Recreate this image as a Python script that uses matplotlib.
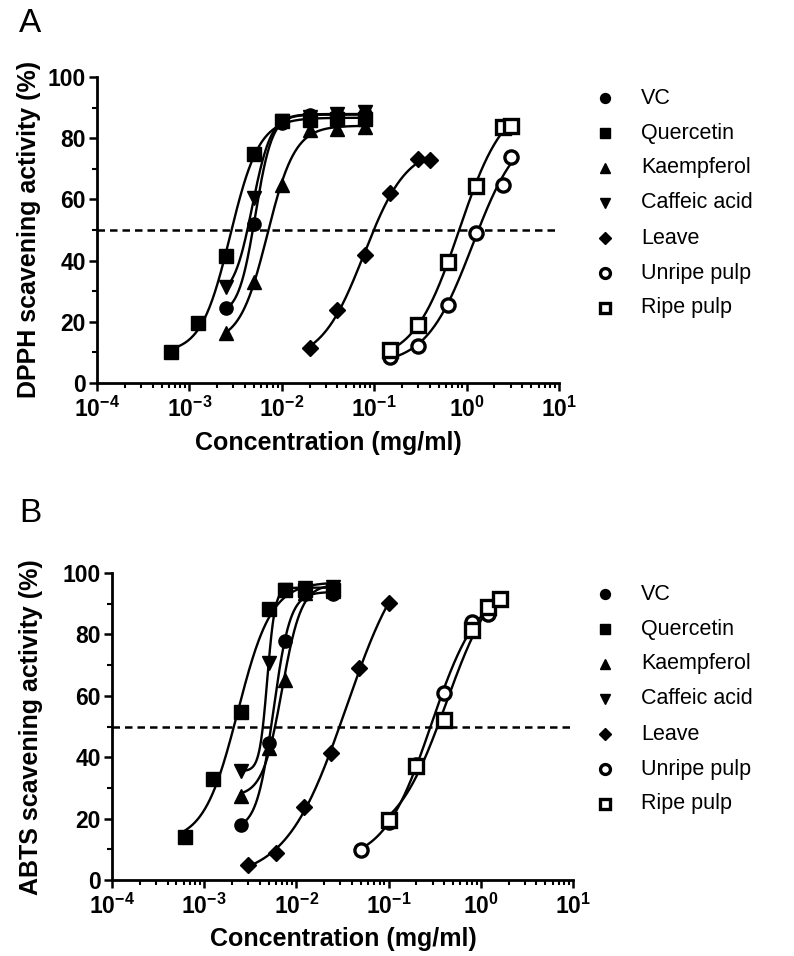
import numpy as np
import matplotlib
matplotlib.use('Agg')
import matplotlib.pyplot as plt
from matplotlib.lines import Line2D
from matplotlib.ticker import FixedLocator, LogLocator, NullFormatter

plt.rcParams['font.family'] = ['Liberation Sans', 'DejaVu Sans']
plt.rcParams['mathtext.fontset'] = 'custom'
plt.rcParams['mathtext.rm'] = 'Liberation Sans:bold'
plt.rcParams['mathtext.it'] = 'Liberation Sans:bold'
plt.rcParams['mathtext.bf'] = 'Liberation Sans:bold'
plt.rcParams['mathtext.default'] = 'bf'

# ---- data ----
names = ['VC', 'Quercetin', 'Kaempferol', 'Caffeic acid', 'Leave', 'Unripe pulp', 'Ripe pulp']

# panel A (DPPH)
conc_std_a = [0.000625, 0.00125, 0.0025, 0.005, 0.01, 0.02, 0.04, 0.08]
vc_a = [24.4, 52.0, 85.0, 87.6, 87.5, 88.0]
quercetin_a = [10.0, 19.5, 41.6, 74.7, 85.6, 86.0, 86.2, 86.3]
kaempferol_a = [16.4, 33.1, 64.7, 82.7, 83.0, 83.5]
caffeic_a = [31.3, 60.4, 85.5, 87.0, 88.0, 88.5]
leave_conc_a = [0.02, 0.04, 0.08, 0.15, 0.3, 0.4]
leave_a = [11.5, 23.8, 41.8, 62.2, 73.2, 73.0]
pulp_conc_a = [0.15, 0.3, 0.625, 1.25, 2.5, 3.0]
unripe_a = [8.6, 12.2, 25.5, 48.9, 64.7, 74.0]
ripe_a = [10.8, 19.0, 39.7, 64.4, 83.8, 83.9]

# panel B (ABTS)
conc_std_b = [0.000625, 0.00125, 0.0025, 0.005, 0.0075, 0.0125, 0.025]
vc_b = [18.0, 44.7, 78.0, 93.0, 93.0]
quercetin_b = [13.9, 32.9, 54.6, 88.4, 94.3, 94.5, 94.5]
kaempferol_b = [27.4, 43.0, 65.1, 93.5, 94.0]
caffeic_b = [35.5, 70.6, 94.5, 95.0, 95.5]
leave_conc_b = [0.003, 0.006, 0.012, 0.024, 0.048, 0.1]
leave_b = [4.9, 8.9, 23.7, 41.3, 68.9, 90.1]
unripe_conc_b = [0.05, 0.1, 0.2, 0.4, 0.8, 1.2]
unripe_b = [9.8, 19.0, 37.5, 61.0, 84.2, 86.8]
ripe_conc_b = [0.1, 0.2, 0.4, 0.8, 1.2, 1.6]
ripe_b = [19.5, 37.0, 52.1, 81.4, 89.0, 91.5]

markers = ['o', 's', '^', 'v', 'D', 'o', 's']
filled = [True, True, True, True, True, False, False]
msizes = [9.5, 9.5, 10, 10, 8.5, 9.5, 9.5]


def fit_4pl(x, y):
    # sigmoidal dose-response (variable slope), brute force over logEC50 / hill,
    # bottom and top solved by least squares
    lx = np.log10(np.asarray(x))
    y = np.asarray(y)
    cs = np.linspace(lx.min() - 0.6, lx.max() + 0.6, 500)
    hs = np.linspace(0.3, 15, 300)
    C, H = np.meshgrid(cs, hs)
    C = C.ravel()[:, None]
    H = H.ravel()[:, None]
    s = 1.0 / (1.0 + 10 ** ((C - lx[None, :]) * H))
    u = 1 - s
    a = (u * u).sum(1)
    b = (u * s).sum(1)
    d = (s * s).sum(1)
    r1 = (u * y).sum(1)
    r2 = (s * y).sum(1)
    det = a * d - b * b
    det[np.abs(det) < 1e-12] = np.nan
    bot = (d * r1 - b * r2) / det
    top = (a * r2 - b * r1) / det
    pred = bot[:, None] * u + top[:, None] * s
    err = ((pred - y) ** 2).sum(1)
    i = np.nanargmin(err)
    return bot[i], top[i], C[i, 0], H[i, 0]


def draw_panel(ax, series):
    for (xv, yv), m, f, ms in zip(series, markers, filled, msizes):
        bot, top, c, h = fit_4pl(xv, yv)
        xs = np.logspace(np.log10(min(xv)), np.log10(max(xv)), 300)
        ys = bot + (top - bot) / (1 + 10 ** ((c - np.log10(xs)) * h))
        ax.plot(xs, ys, color='black', lw=1.7, zorder=2)
        ax.plot(xv, yv, ls='none', marker=m, ms=ms,
                mfc='black' if f else 'white', mec='black',
                mew=2.4 if not f else 1, zorder=3, clip_on=False)

    ax.axhline(50, color='black', lw=1.8, ls=(0, (3, 2)), zorder=1)
    ax.set_xscale('log')
    ax.set_xlim(1e-4, 1e1)
    ax.set_ylim(0, 100)
    ax.xaxis.set_major_locator(FixedLocator([1e-4, 1e-3, 1e-2, 1e-1, 1e0, 1e1]))
    ax.set_xticklabels([r'$\mathbf{10^{%d}}$' % p for p in range(-4, 2)])
    ax.xaxis.set_minor_locator(LogLocator(base=10, subs=np.arange(2, 10), numticks=20))
    ax.xaxis.set_minor_formatter(NullFormatter())
    ax.set_yticks([0, 20, 40, 60, 80, 100])
    ax.set_yticks([10, 30, 50, 70, 90], minor=True)
    for lab in ax.get_yticklabels():
        lab.set_fontweight('bold')
    ax.tick_params(which='major', length=6, width=1.8, labelsize=16.5, direction='out', pad=2)
    ax.tick_params(which='minor', length=3.5, width=1.5, direction='out')
    ax.tick_params(axis='x', which='major', pad=4)
    for sp in ['top', 'right']:
        ax.spines[sp].set_visible(False)
    for sp in ['left', 'bottom']:
        ax.spines[sp].set_linewidth(2)


fig = plt.figure(figsize=(7.94, 9.56), dpi=100)
W, Hh = 794.0, 956.0

axA = fig.add_axes([97 / W, 1 - 383 / Hh, 462 / W, 306 / Hh])
axB = fig.add_axes([112 / W, 1 - 880 / Hh, 461 / W, 307 / Hh])

series_a = [(conc_std_a[2:], vc_a), (conc_std_a, quercetin_a), (conc_std_a[2:], kaempferol_a),
            (conc_std_a[2:], caffeic_a), (leave_conc_a, leave_a), (pulp_conc_a, unripe_a),
            (pulp_conc_a, ripe_a)]
series_b = [(conc_std_b[2:], vc_b), (conc_std_b, quercetin_b), (conc_std_b[2:], kaempferol_b),
            (conc_std_b[2:], caffeic_b), (leave_conc_b, leave_b), (unripe_conc_b, unripe_b),
            (ripe_conc_b, ripe_b)]

draw_panel(axA, series_a)
draw_panel(axB, series_b)

# axis titles
fig.text(29 / W, 1 - 229 / Hh, 'DPPH scavening activity (%)', rotation=90,
         ha='center', va='center', fontsize=18, fontweight='bold')
fig.text(31 / W, 1 - 727 / Hh, 'ABTS scavening activity (%)', rotation=90,
         ha='center', va='center', fontsize=18, fontweight='bold')
fig.text(328 / W, 1 - 443 / Hh, 'Concentration (mg/ml)', ha='center', va='center',
         fontsize=18, fontweight='bold')
fig.text(343 / W, 1 - 939 / Hh, 'Concentration (mg/ml)', ha='center', va='center',
         fontsize=18, fontweight='bold')

# panel letters
fig.text(30 / W, 1 - 23 / Hh, 'A', ha='center', va='center', fontsize=24)
fig.text(30 / W, 1 - 513 / Hh, 'B', ha='center', va='center', fontsize=24)

# legends
for y0 in [98, 594]:
    for i, name in enumerate(names):
        yy = 1 - (y0 + 35 * i) / Hh
        fig.add_artist(Line2D([605 / W], [yy], transform=fig.transFigure, marker=markers[i],
                              ms=msizes[i] * 0.75, mfc='black' if filled[i] else 'white',
                              mec='black', mew=2.4 if not filled[i] else 1, ls='none'))
        fig.text(641 / W, yy, name, ha='left', va='center', fontsize=15.5)

fig.savefig('out.png', dpi=100, facecolor='white')
